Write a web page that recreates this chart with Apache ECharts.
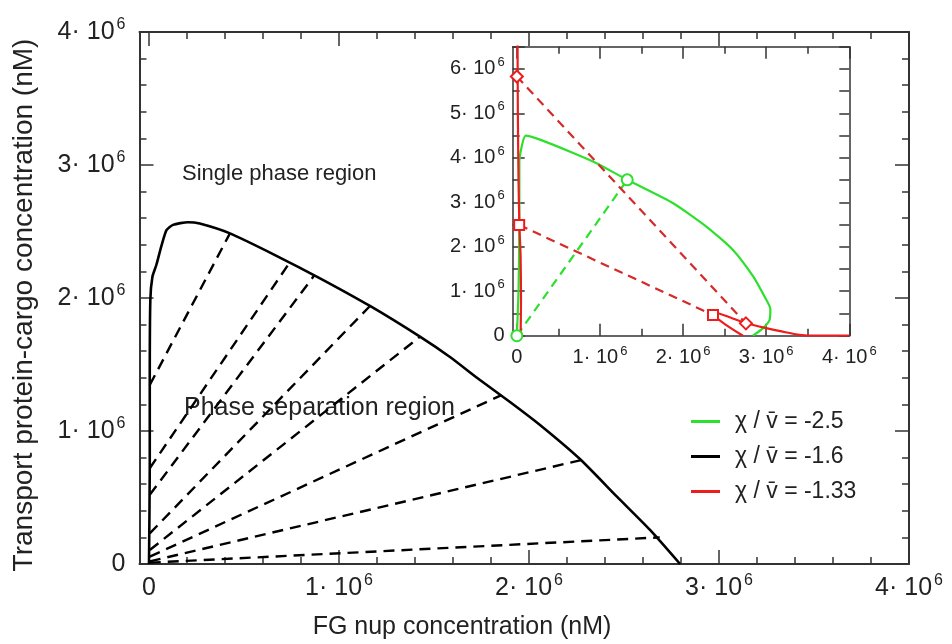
<!DOCTYPE html>
<html><head><meta charset="utf-8">
<script src="https://cdn.jsdelivr.net/npm/echarts@6/dist/echarts.min.js"></script>
<style>html,body{margin:0;padding:0;background:#fff}#c{width:952px;height:644px}</style>
</head><body><div id="c"></div>
<script>
// all concentrations in units of 10^6 nM
const mainTickValues = [0, 1, 2, 3, 4];
const insetXTickValues = [0, 1, 2, 3, 4];
const insetYTickValues = [0, 1, 2, 3, 4, 5, 6];
const tickExponent = '6';

const legendNames = ['χ / v̄ = -2.5', 'χ / v̄ = -1.6', 'χ / v̄ = -1.33'];

// main plot: chi/v = -1.6 binodal
const blackCurveX = [0.0, 0.004, 0.004, 0.007, 0.018, 0.039, 0.065, 0.092, 0.126, 0.205, 0.267, 0.426, 0.663, 0.9, 1.163, 1.426, 1.584, 1.742, 1.9, 2.058, 2.268, 2.463, 2.637, 2.795];
const blackCurveY = [0.0, 0.73, 1.36, 1.985, 2.16, 2.25, 2.39, 2.51, 2.55, 2.57, 2.56, 2.486, 2.323, 2.148, 1.94, 1.709, 1.556, 1.383, 1.218, 1.045, 0.789, 0.506, 0.256, 0.0];

// main plot: tie lines
const tieStartX = [0.004, 0.004, 0.004, 0.004, 0.004, 0.004, 0.004, 0.004];
const tieStartY = [1.346, 0.72, 0.52, 0.23, 0.105, 0.055, 0.02, 0.01];
const tieEndX = [0.426, 0.742, 0.87, 1.163, 1.426, 1.855, 2.276, 2.688];
const tieEndY = [2.486, 2.27, 2.17, 1.94, 1.709, 1.27, 0.782, 0.2];

// inset: chi/v = -2.5
const greenCurveX = [0.0, 0.02, 0.03, 0.03, 0.108, 0.277, 0.678, 0.959, 1.328, 1.88, 2.28, 2.60, 2.845, 2.98, 3.05, 3.04, 2.96, 2.84];
const greenCurveY = [0.0, 1.0, 2.5, 3.9, 4.50, 4.41, 4.11, 3.88, 3.506, 2.98, 2.455, 1.93, 1.33, 0.88, 0.6, 0.35, 0.165, 0.0];
const greenTieX = [0.0, 1.328];
const greenTieY = [0.0, 3.506];

// inset: chi/v = -1.33
const redLeftX = [0.008, 0.012, 0.02, 0.03, 0.045, 0.05, 0.045];
const redLeftY = [6.8, 5.0, 3.5, 2.5, 1.8, 0.8, 0.0];
const redRightX = [2.72, 2.52, 2.36, 2.40, 2.55, 2.76, 3.0, 3.2, 3.4, 3.6, 4.0];
const redRightY = [0.0, 0.24, 0.48, 0.51, 0.42, 0.28, 0.17, 0.09, 0.02, 0.0, 0.0];
const redDiamondTieX = [0.0, 2.756];
const redDiamondTieY = [5.83, 0.278];
const redSquareTieX = [0.028, 2.36];
const redSquareTieY = [2.49, 0.465];

const FONT = 'Liberation Sans';
const pairs = (xs, ys) => xs.map((x, i) => [x, ys[i]]);

function makeFmt(ticks) {
  return function (v) {
    if (!ticks.some(t => Math.abs(t - v) < 1e-9)) return '';
    if (Math.abs(v) < 1e-9) return '{n|0}';
    return '{n|' + v + '· 10}{s|' + tickExponent + '}';
  };
}
function rich(big, small, raise) {
  return {
    n: { fontSize: big, fontFamily: FONT, color: '#222', lineHeight: big + 6 },
    s: { fontSize: small, fontFamily: FONT, color: '#222', verticalAlign: 'top', lineHeight: small + 2, padding: [0, 0, raise, 2] }
  };
}

// geometry
const M = { left: 139.5, top: 32, right: 909, bottom: 564, xmin: -0.05, xmax: 4 };
const mZero = M.left + (0 - M.xmin) / (M.xmax - M.xmin) * (M.right - M.left);
const I = { left: 512.7, top: 46.7, right: 849.3, bottom: 335.7, xmin: -0.05, xmax: 4 };
const iZero = I.left + (0 - I.xmin) / (I.xmax - I.xmin) * (I.right - I.left);

const lineCol = '#333';
const hidden = { axisLine: { show: false }, axisTick: { show: false }, axisLabel: { show: false }, splitLine: { show: false } };

const grid = [
  { left: M.left, top: M.top, width: M.right - M.left, height: M.bottom - M.top },
  { left: mZero, top: M.top, width: M.right - mZero, height: M.bottom - M.top },
  { left: I.left, top: I.top, width: I.right - I.left, height: I.bottom - I.top },
  { left: iZero, top: I.top, width: I.right - iZero, height: I.bottom - I.top }
];

function frameAxis(gi, pos, min, max, w) {
  return Object.assign({}, hidden, { type: 'value', gridIndex: gi, position: pos, min, max,
    axisLine: { show: true, onZero: false, lineStyle: { color: lineCol, width: w } } });
}
function tickAxis(gi, pos, min, max, interval, len, minorSplit, minorLen, labels, ticks, fs, ss, raise, margin) {
  return {
    type: 'value', gridIndex: gi, position: pos, min, max, interval,
    axisLine: { show: false, onZero: false },
    axisTick: { show: true, inside: true, length: len, lineStyle: { color: lineCol, width: 1.5 } },
    minorTick: { show: minorSplit > 0, splitNumber: minorSplit || 5, length: minorLen, lineStyle: { color: lineCol, width: 1.5 } },
    axisLabel: labels ? { show: true, margin, formatter: makeFmt(ticks), rich: rich(fs, ss, raise) } : { show: false },
    splitLine: { show: false }
  };
}

const xAxis = [
  frameAxis(0, 'bottom', M.xmin, M.xmax, 2),
  frameAxis(0, 'top', M.xmin, M.xmax, 2),
  tickAxis(1, 'bottom', 0, 4, 1, 14, 5, 7, true, mainTickValues, 25, 16, 14, 9),
  tickAxis(1, 'top', 0, 4, 1, 14, 5, 7, false),
  frameAxis(2, 'bottom', I.xmin, I.xmax, 1.5),
  frameAxis(2, 'top', I.xmin, I.xmax, 1.5),
  tickAxis(3, 'bottom', 0, 4, 1, 12, 2, 7, true, insetXTickValues, 20, 13, 11, 9),
  tickAxis(3, 'top', 0, 4, 1, 12, 2, 7, false)
];

const mainY = tickAxis(0, 'left', 0, 4, 1, 14, 5, 7, true, mainTickValues, 25, 16, 14, 14);
mainY.axisLine = { show: true, onZero: false, lineStyle: { color: lineCol, width: 2 } };
const mainYR = tickAxis(0, 'right', 0, 4, 1, 14, 5, 7, false);
mainYR.axisLine = { show: true, onZero: false, lineStyle: { color: lineCol, width: 2 } };
const insetY = tickAxis(2, 'left', 0, 6.5, 1, 12, 0, 0, true, insetYTickValues, 20, 13, 11, 8);
insetY.axisLine = { show: true, onZero: false, lineStyle: { color: lineCol, width: 1.5 } };
const insetYMinor = tickAxis(2, 'left', 0, 6.5, 0.5, 7, 0, 0, false);
const insetYR = tickAxis(2, 'right', 0, 6.5, 0.5, 10, 0, 0, false);
insetYR.axisLine = { show: true, onZero: false, lineStyle: { color: lineCol, width: 1.5 } };

const yAxis = [
  mainY, mainYR,
  Object.assign({}, hidden, { type: 'value', gridIndex: 1, min: 0, max: 4, show: false }),
  insetY, insetYMinor, insetYR,
  Object.assign({}, hidden, { type: 'value', gridIndex: 3, min: 0, max: 6.5, show: false })
];

const green = '#2ee02e', red = '#ee1c1c', darkRed = '#d42a2a';
const series = [];
series.push({ name: legendNames[1], type: 'line', xAxisIndex: 0, yAxisIndex: 0, data: pairs(blackCurveX, blackCurveY),
  symbol: 'none', smooth: 0.2, lineStyle: { color: '#000', width: 2.6 }, itemStyle: { color: '#000' } });
tieStartX.forEach((sx, i) => {
  series.push({ name: 'tie' + i, type: 'line', xAxisIndex: 0, yAxisIndex: 0,
    data: [[sx, tieStartY[i]], [tieEndX[i], tieEndY[i]]], symbol: 'none',
    lineStyle: { color: '#000', width: 2.4, type: [11, 7] } });
});
series.push({ name: legendNames[0], type: 'line', xAxisIndex: 4, yAxisIndex: 3, data: pairs(greenCurveX, greenCurveY),
  symbol: 'none', smooth: 0.2, lineStyle: { color: green, width: 2.2 }, itemStyle: { color: green } });
series.push({ name: 'greenTie', type: 'line', xAxisIndex: 4, yAxisIndex: 3, data: pairs(greenTieX, greenTieY),
  symbol: 'emptyCircle', symbolSize: 11, lineStyle: { color: green, width: 2.2, type: [9, 6] }, itemStyle: { color: green, borderWidth: 2 } });
series.push({ name: legendNames[2], type: 'line', xAxisIndex: 4, yAxisIndex: 3, data: pairs(redLeftX, redLeftY),
  symbol: 'none', smooth: 0.2, lineStyle: { color: red, width: 2.2 }, itemStyle: { color: red } });
series.push({ name: legendNames[2], type: 'line', xAxisIndex: 4, yAxisIndex: 3, data: pairs(redRightX, redRightY),
  symbol: 'none', smooth: 0.2, lineStyle: { color: red, width: 2.2 }, itemStyle: { color: red } });
series.push({ name: 'redDiamondTie', type: 'line', xAxisIndex: 4, yAxisIndex: 3, data: pairs(redDiamondTieX, redDiamondTieY),
  symbol: 'emptyDiamond', symbolSize: 12, lineStyle: { color: darkRed, width: 2.2, type: [9, 6] }, itemStyle: { color: red, borderWidth: 2 } });
series.push({ name: 'redSquareTie', type: 'line', xAxisIndex: 4, yAxisIndex: 3, data: pairs(redSquareTieX, redSquareTieY),
  symbol: 'emptyRect', symbolSize: 10, lineStyle: { color: darkRed, width: 2.2, type: [9, 6] }, itemStyle: { color: red, borderWidth: 2 } });

const option = {
  animation: false,
  backgroundColor: '#fff',
  grid, xAxis, yAxis, series,
  legend: {
    data: legendNames, orient: 'vertical', left: 686, top: 405, itemWidth: 29, itemHeight: 3, icon: 'rect', itemGap: 12,
    selectedMode: false,
    formatter: n => '{t|' + n + '}',
    textStyle: { rich: { t: { fontSize: 23, fontFamily: FONT, color: '#222', padding: [0, 0, 0, 10] } } }
  },
  graphic: [
    { type: 'text', x: 182, y: 174, style: { text: 'Single phase region', fontSize: 22, fontFamily: FONT, fill: '#222', align: 'left', verticalAlign: 'middle' } },
    { type: 'text', x: 184, y: 408, style: { text: 'Phase separation region', fontSize: 25, fontFamily: FONT, fill: '#222', align: 'left', verticalAlign: 'middle' } },
    { type: 'text', x: 462, y: 627, style: { text: 'FG nup concentration (nM)', fontSize: 25, fontFamily: FONT, fill: '#222', align: 'center', verticalAlign: 'middle' } },
    { type: 'text', x: 24, y: 305, rotation: Math.PI / 2, style: { text: 'Transport protein-cargo concentration (nM)', fontSize: 28, fontFamily: FONT, fill: '#222', align: 'center', verticalAlign: 'middle' } }
  ]
};
echarts.init(document.getElementById('c')).setOption(option);
</script></body></html>
